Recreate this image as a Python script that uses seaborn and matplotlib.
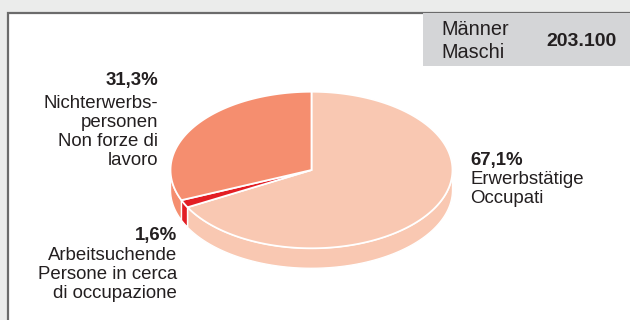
import numpy as np
import matplotlib
matplotlib.use("Agg")
import matplotlib.pyplot as plt
from matplotlib.patches import Polygon, Rectangle
import seaborn as sns

# Labour force status, men (shares in %)
categories = ["Erwerbstätige\nOccupati", "Arbeitsuchende\nPersone in cerca\ndi occupazione",
              "Nichterwerbs-\npersonen\nNon forze di\nlavoro"]
shares = [67.1, 1.6, 31.3]
share_labels = ["67,1%", "1,6%", "31,3%"]
colors = ["#f9c8b2", "#e31e24", "#f58e6f"]
box_title = ["Männer", "Maschi"]
box_total = "203.100"

sns.set_theme(style="white")
plt.rcParams["font.family"] = ["Liberation Sans", "DejaVu Sans"]

W, H = 630, 320
fig = plt.figure(figsize=(W / 100, H / 100), dpi=100, facecolor="#ebeceb")
ax = fig.add_axes([0, 0, 1, 1])
ax.set_xlim(0, W)
ax.set_ylim(H, 0)
ax.axis("off")

# white panel and grey header box
ax.add_patch(Rectangle((8, 12.5), 700, 400, facecolor="white", edgecolor="#6b6b6b", lw=1.6, zorder=0))
ax.add_patch(Rectangle((423, 13.3), 300, 52.5, facecolor="#d4d5d7", edgecolor="none", zorder=1))

txt = "#231f20"
ax.text(441, 35, box_title[0], fontsize=14.3, color=txt, va="baseline", ha="left", zorder=3)
ax.text(441, 58, box_title[1], fontsize=14.3, color=txt, va="baseline", ha="left", zorder=3)
ax.text(617, 46, box_total, fontsize=14, fontweight="bold", color=txt, va="baseline", ha="right", zorder=3)

# pie geometry (tilted disc)
cx, cy, rx, ry, depth = 311.5, 170.0, 141.0, 78.3, 20.0


def arc(a0, a1, dy=0.0, n=200):
    t = np.radians(np.linspace(a0, a1, n))
    return np.column_stack([cx + rx * np.cos(t), cy - ry * np.sin(t) + dy])


# slice angles: clockwise from 12 o'clock
cum = np.concatenate([[0], np.cumsum(shares)]) / np.sum(shares) * 360.0
spans = [(90 - cum[i + 1], 90 - cum[i]) for i in range(len(shares))]

# visible side walls (front half of the disc)
for (a0, a1), col in zip(spans, colors):
    a0n = a0 % 360
    a1n = a0n + (a1 - a0)
    for lo, hi in [(180, 360), (540, 720)]:
        s, e = max(a0n, lo), min(a1n, hi)
        if e > s:
            top = arc(s, e)
            bot = arc(e, s, dy=depth)
            ax.add_patch(Polygon(np.vstack([top, bot]), closed=True, facecolor=col,
                                 edgecolor="white", lw=1.0, zorder=2))

# top face
for (a0, a1), col in zip(spans, colors):
    pts = np.vstack([[cx, cy], arc(a0, a1), [cx, cy]])
    ax.add_patch(Polygon(pts, closed=True, facecolor=col, edgecolor="white",
                         lw=1.3, joinstyle="miter", zorder=3))

# labels
fs = 13.4
ax.text(470, 165, share_labels[0], fontsize=fs, fontweight="bold", color=txt, ha="left", va="baseline")
for i, line in enumerate(categories[0].split("\n")):
    ax.text(470, 184 + i * 18.7, line, fontsize=fs, color=txt, ha="left", va="baseline")

ax.text(158, 85, share_labels[2], fontsize=fs, fontweight="bold", color=txt, ha="right", va="baseline")
for i, line in enumerate(categories[2].split("\n")):
    ax.text(158, 107.5 + i * 19.3, line, fontsize=fs, color=txt, ha="right", va="baseline")

ax.text(177, 240, share_labels[1], fontsize=fs, fontweight="bold", color=txt, ha="right", va="baseline")
for i, line in enumerate(categories[1].split("\n")):
    ax.text(177, 259.5 + i * 19.4, line, fontsize=fs, color=txt, ha="right", va="baseline")

fig.savefig("out.png", dpi=100, facecolor=fig.get_facecolor())
